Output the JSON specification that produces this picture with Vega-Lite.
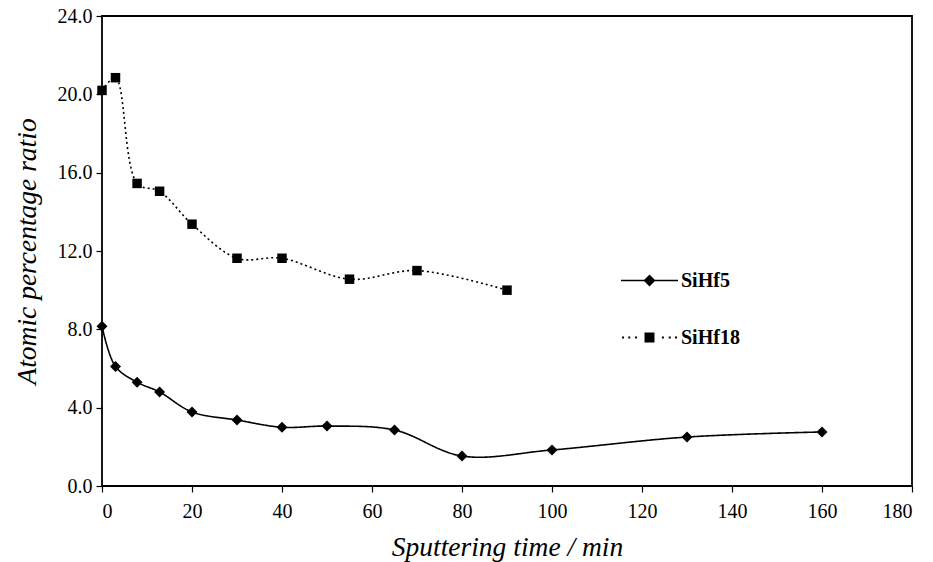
{
  "$schema": "https://vega.github.io/schema/vega-lite/v6.json",
  "width": 810,
  "height": 470,
  "autosize": {"type": "none"},
  "padding": {"left": 102, "top": 16, "right": 21, "bottom": 76},
  "background": "white",
  "config": {
    "font": "Liberation Serif",
    "view": {"stroke": "black", "strokeWidth": 1.8},
    "axis": {
      "grid": false,
      "domain": false,
      "tickColor": "black",
      "tickSize": 6,
      "tickWidth": 1.2,
      "labelFont": "Liberation Serif",
      "labelFontSize": 20,
      "labelColor": "black",
      "titleFont": "Liberation Serif",
      "titleFontSize": 27.5,
      "titleFontWeight": "normal",
      "titleFontStyle": "italic",
      "titleColor": "black"
    }
  },
  "data": {
    "values": [
      {"series": "SiHf5", "t": 0, "v": 8.16},
      {"series": "SiHf5", "t": 3, "v": 6.1},
      {"series": "SiHf5", "t": 7.8, "v": 5.3},
      {"series": "SiHf5", "t": 12.8, "v": 4.8},
      {"series": "SiHf5", "t": 20, "v": 3.78},
      {"series": "SiHf5", "t": 30, "v": 3.37},
      {"series": "SiHf5", "t": 40, "v": 3.0},
      {"series": "SiHf5", "t": 50, "v": 3.06},
      {"series": "SiHf5", "t": 65, "v": 2.86},
      {"series": "SiHf5", "t": 80, "v": 1.53},
      {"series": "SiHf5", "t": 100, "v": 1.84},
      {"series": "SiHf5", "t": 130, "v": 2.5},
      {"series": "SiHf5", "t": 160, "v": 2.76},
      {"series": "SiHf18", "t": 0, "v": 20.2},
      {"series": "SiHf18", "t": 3, "v": 20.85},
      {"series": "SiHf18", "t": 7.8, "v": 15.45},
      {"series": "SiHf18", "t": 12.8, "v": 15.05},
      {"series": "SiHf18", "t": 20, "v": 13.37},
      {"series": "SiHf18", "t": 30, "v": 11.63},
      {"series": "SiHf18", "t": 40, "v": 11.63},
      {"series": "SiHf18", "t": 55, "v": 10.56},
      {"series": "SiHf18", "t": 70, "v": 11.0},
      {"series": "SiHf18", "t": 90, "v": 10.0}
    ]
  },
  "encoding": {
    "x": {
      "field": "t",
      "type": "quantitative",
      "scale": {"domain": [0, 180], "nice": false, "zero": false},
      "axis": {"values": [0, 20, 40, 60, 80, 100, 120, 140, 160, 180], "title": "Sputtering time / min", "labelPadding": 9, "titlePadding": 12}
    },
    "y": {
      "field": "v",
      "type": "quantitative",
      "scale": {"domain": [0, 24], "nice": false},
      "axis": {"values": [0, 4, 8, 12, 16, 20, 24], "format": ".1f", "title": "Atomic percentage ratio", "labelPadding": 4, "titlePadding": 16}
    }
  },
  "layer": [
    {
      "mark": {"type": "line", "interpolate": "catmull-rom", "color": "black", "strokeWidth": 1.6},
      "encoding": {
        "strokeDash": {
          "field": "series",
          "type": "nominal",
          "scale": {"domain": ["SiHf5", "SiHf18"], "range": [[1, 0], [2, 3]]},
          "legend": {
            "title": null,
            "orient": "none",
            "legendX": 519,
            "legendY": 236,
            "symbolSize": 3249,
            "symbolType": "M-1,-0.028L1,-0.028L1,0.028L-1,0.028ZM0,-0.21L0.21,0L0,0.21L-0.21,0Z",
            "symbolStrokeColor": "black",
            "symbolFillColor": "black",
            "symbolStrokeWidth": 0,
            "labelFont": "Liberation Serif",
            "labelFontSize": 20,
            "labelFontWeight": "bold",
            "labelColor": "black",
            "labelOffset": 3,
            "rowPadding": 18,
            "encode": {
              "symbols": {
                "update": {
                  "shape": {"signal": "datum.value === 'SiHf5' ? 'M-1,-0.028L1,-0.028L1,0.028L-1,0.028ZM0,-0.21L0.21,0L0,0.21L-0.21,0Z' : 'M-0.965,-0.035L-0.895,-0.035L-0.895,0.035L-0.965,0.035ZM-0.745,-0.035L-0.675,-0.035L-0.675,0.035L-0.745,0.035ZM-0.505,-0.035L-0.435,-0.035L-0.435,0.035L-0.505,0.035ZM-0.175,-0.175L0.175,-0.175L0.175,0.175L-0.175,0.175ZM0.435,-0.035L0.505,-0.035L0.505,0.035L0.435,0.035ZM0.675,-0.035L0.745,-0.035L0.745,0.035L0.675,0.035ZM0.895,-0.035L0.965,-0.035L0.965,0.035L0.895,0.035Z'"},
                  "fill": {"value": "black"},
                  "fillOpacity": {"value": 1},
                  "strokeWidth": {"value": 0}
                }
              }
            }
          }
        }
      }
    },
    {
      "transform": [{"filter": "datum.series === 'SiHf5'"}],
      "mark": {"type": "point", "shape": "diamond", "size": 120, "filled": true, "color": "black", "opacity": 1}
    },
    {
      "transform": [{"filter": "datum.series === 'SiHf18'"}],
      "mark": {"type": "point", "shape": "square", "size": 90, "filled": true, "color": "black", "opacity": 1}
    }
  ]
}
